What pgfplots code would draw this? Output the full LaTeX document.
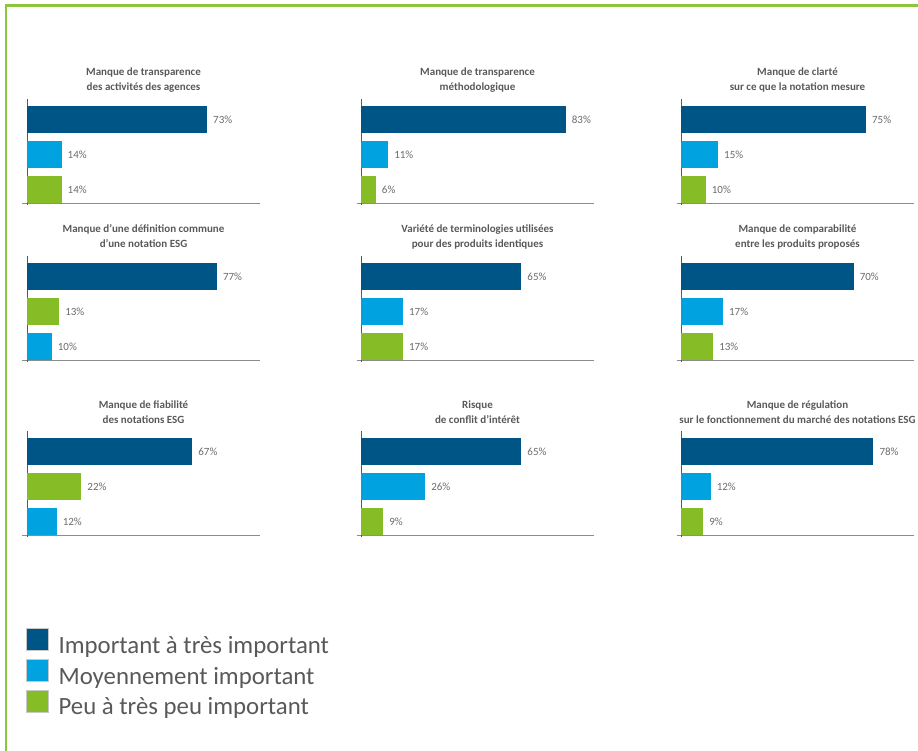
\documentclass[border=0pt]{standalone}
\usepackage{pgfplots}
\pgfplotsset{compat=1.18}
\usepackage{fontspec}
\setmainfont{Carlito}
\definecolor{cdark}{HTML}{005587}
\definecolor{clight}{HTML}{00A3E0}
\definecolor{cgreen}{HTML}{86BC25}
\definecolor{bgreen}{HTML}{8CC63F}
\definecolor{tgray}{HTML}{595959}
\definecolor{vgray}{HTML}{6B6B6B}
\definecolor{axgray}{HTML}{8C8C8C}
\definecolor{leggray}{HTML}{C8C8C8}
\pgfplotsset{
  panel/.style={
    xbar, bar shift=0pt, bar width=27pt,
    scale only axis, width=233pt, height=104pt,
    anchor=south west, clip=false,
    xmin=0, xmax=94.5, ymin=0.6143, ymax=3.5857,
    axis x line=bottom, axis y line=left,
    x axis line style={-, draw=axgray, line width=0.8pt, shorten <=-4.5pt},
    y axis line style={-, draw=tgray, line width=0.6pt, shorten <=-2pt},
    xtick=\empty, ytick=\empty,
    point meta=x,
    nodes near coords={\pgfmathprintnumber{\pgfplotspointmeta}\%},
    nodes near coords align={horizontal},
    every node near coord/.append style={font=\fontsize{11}{13}\selectfont, text=vgray, anchor=west, inner sep=0pt, xshift=6pt},
    /pgf/number format/assume math mode=true,
    every axis title/.style={at={(0.5,1)}, anchor=south, inner sep=0pt, align=center, font=\fontsize{11}{15}\selectfont\bfseries, text=tgray},
  },
  dk/.style={fill=cdark, draw=none},
  lb/.style={fill=clight, draw=none},
  gr/.style={fill=cgreen, draw=none},
  legsq/.style={legend image code/.code={\draw[##1, draw=leggray, line width=0.6pt] (0pt,-3pt) rectangle (22pt,19pt);}},
}
\begin{document}
\begin{tikzpicture}
\path[use as bounding box] (0,0) rectangle (918pt,-751pt);
\draw[bgreen, line width=2.6pt] (6pt,-751pt) -- (6pt,-5.5pt) -- (918pt,-5.5pt);

% Row 1
\begin{axis}[panel, at={(27pt,-203pt)},
  title={Manque de transparence\\des activités des agences\strut}, title style={yshift=3.5pt},
  legend cell align=left,
  legend style={at={(axis description cs:0,0)}, anchor=north west, xshift=-1pt, yshift=-425.4pt,
    draw=none, fill=none, inner sep=0pt, outer sep=0pt,
    font=\fontsize{24.8}{30}\selectfont, text=tgray, row sep=0pt,
    nodes={inner sep=0pt, text height=17pt, text depth=6pt},
    /tikz/every odd column/.append style={column sep=10pt}}]
\addplot[dk, legsq] coordinates {(73,3)};
\addplot[lb, legsq] coordinates {(14,2)};
\addplot[gr, legsq] coordinates {(14,1)};
\legend{Important à très important, Moyennement important, Peu à très peu important}
\end{axis}
\begin{axis}[panel, at={(361pt,-203pt)},
  title={Manque de transparence\\méthodologique\strut}, title style={yshift=3.5pt}]
\addplot[dk] coordinates {(83,3)};
\addplot[lb] coordinates {(11,2)};
\addplot[gr] coordinates {(6,1)};
\end{axis}
\begin{axis}[panel, at={(681pt,-203pt)},
  title={Manque de clarté\\sur ce que la notation mesure\strut}, title style={yshift=3.5pt}]
\addplot[dk] coordinates {(75,3)};
\addplot[lb] coordinates {(15,2)};
\addplot[gr] coordinates {(10,1)};
\end{axis}

% Row 2
\begin{axis}[panel, at={(27pt,-360pt)},
  title={Manque d’une définition commune\\d’une notation ESG\strut}, title style={yshift=4pt}]
\addplot[dk] coordinates {(77,3)};
\addplot[gr] coordinates {(13,2)};
\addplot[lb] coordinates {(10,1)};
\end{axis}
\begin{axis}[panel, at={(361pt,-360pt)},
  title={Variété de terminologies utilisées\\pour des produits identiques\strut}, title style={yshift=4pt}]
\addplot[dk] coordinates {(65,3)};
\addplot[lb] coordinates {(17,2)};
\addplot[gr] coordinates {(17,1)};
\end{axis}
\begin{axis}[panel, at={(681pt,-360pt)},
  title={Manque de comparabilité\\entre les produits proposés\strut}, title style={yshift=4pt}]
\addplot[dk] coordinates {(70,3)};
\addplot[lb] coordinates {(17,2)};
\addplot[gr] coordinates {(13,1)};
\end{axis}

% Row 3
\begin{axis}[panel, at={(27pt,-535pt)},
  title={Manque de fiabilité\\des notations ESG\strut}, title style={yshift=3pt}]
\addplot[dk] coordinates {(67,3)};
\addplot[gr] coordinates {(22,2)};
\addplot[lb] coordinates {(12,1)};
\end{axis}
\begin{axis}[panel, at={(361pt,-535pt)},
  title={Risque\\de conflit d’intérêt\strut}, title style={yshift=3pt}]
\addplot[dk] coordinates {(65,3)};
\addplot[lb] coordinates {(26,2)};
\addplot[gr] coordinates {(9,1)};
\end{axis}
\begin{axis}[panel, at={(681pt,-535pt)},
  title={Manque de régulation\\sur le fonctionnement du marché des notations ESG\strut}, title style={yshift=3pt}]
\addplot[dk] coordinates {(78,3)};
\addplot[lb] coordinates {(12,2)};
\addplot[gr] coordinates {(9,1)};
\end{axis}
\end{tikzpicture}
\end{document}
